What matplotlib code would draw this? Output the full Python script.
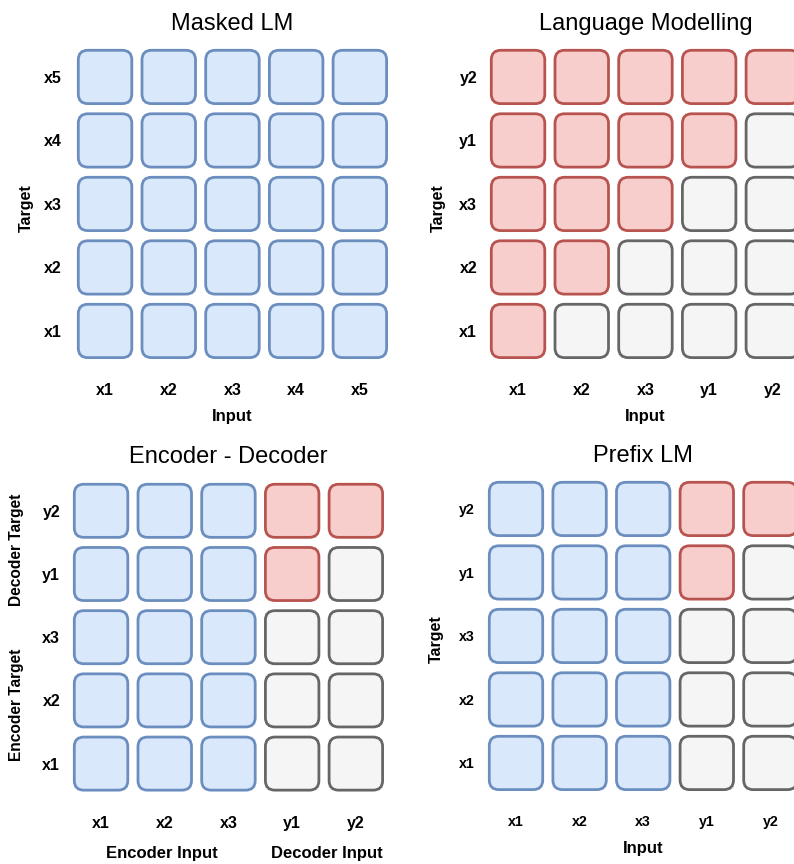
import matplotlib
matplotlib.use("Agg")
import matplotlib.pyplot as plt
from matplotlib.patches import FancyBboxPatch

plt.rcParams['font.family'] = ['Liberation Sans', 'DejaVu Sans']

# cell states, rows listed bottom -> top: b = attend (blue), r = causal (red), g = masked (grey)
masked_lm_grid = ["bbbbb", "bbbbb", "bbbbb", "bbbbb", "bbbbb"]
lang_model_grid = ["rgggg", "rrggg", "rrrgg", "rrrrg", "rrrrr"]
enc_dec_grid = ["bbbgg", "bbbgg", "bbbgg", "bbbrg", "bbbrr"]
prefix_lm_grid = ["bbbgg", "bbbgg", "bbbgg", "bbbrg", "bbbrr"]

masked_lm_labels = ["x1", "x2", "x3", "x4", "x5"]
seq_labels = ["x1", "x2", "x3", "y1", "y2"]

titles = ["Masked LM", "Language Modelling", "Encoder - Decoder", "Prefix LM"]

fills = {"b": "#dae8fc", "r": "#f8cecc", "g": "#f5f5f5"}
edges = {"b": "#6c8ebf", "r": "#b85450", "g": "#666666"}

W, H = 794, 864
fig = plt.figure(figsize=(W / 100, H / 100), dpi=100)


def make_ax(left, top, w, h):
    return fig.add_axes([left / W, 1 - (top + h) / H, w / W, h / H])


def draw_grid(ax, grid, xlabels, ylabels, title, tick_size, xpad, ypad, title_pad):
    n = len(grid)
    for r, row in enumerate(grid):
        for c, s in enumerate(row):
            box = FancyBboxPatch((c + 0.08, r + 0.08), 0.84, 0.84,
                                 boxstyle="round,pad=0,rounding_size=0.15",
                                 facecolor=fills[s], edgecolor=edges[s], linewidth=2.0)
            ax.add_patch(box)
    ax.set_xlim(0, n)
    ax.set_ylim(0, n)
    centers = [i + 0.5 for i in range(n)]
    ax.set_xticks(centers, xlabels)
    ax.set_yticks(centers, ylabels)
    ax.tick_params(length=0, labelsize=tick_size)
    ax.tick_params(axis='x', pad=xpad)
    ax.tick_params(axis='y', pad=ypad)
    for t in ax.get_xticklabels() + ax.get_yticklabels():
        t.set_fontweight('bold')
    for sp in ax.spines.values():
        sp.set_visible(False)
    ax.set_title(title, fontsize=17, pad=title_pad)


ax1 = make_ax(73.2, 45.2, 318.5, 317.5)
draw_grid(ax1, masked_lm_grid, masked_lm_labels, masked_lm_labels, titles[0], 11.5, 14.5, 8, 11)
ax1.set_xlabel("Input", fontsize=12, fontweight='bold')
ax1.xaxis.set_label_coords(0.5, -0.171)
ax1.xaxis.label.set_va('center')
ax1.set_ylabel("Target", fontsize=11.5, fontweight='bold')
ax1.yaxis.set_label_coords(-0.148, 0.487)
ax1.yaxis.label.set_va('center')

ax2 = make_ax(486.2, 45.2, 318.5, 317.5)
draw_grid(ax2, lang_model_grid, seq_labels, seq_labels, titles[1], 11.5, 14.5, 6.5, 11)
ax2.set_xlabel("Input", fontsize=12, fontweight='bold')
ax2.xaxis.set_label_coords(0.5, -0.171)
ax2.xaxis.label.set_va('center')
ax2.set_ylabel("Target", fontsize=11.5, fontweight='bold')
ax2.yaxis.set_label_coords(-0.151, 0.487)
ax2.yaxis.label.set_va('center')

ax3 = make_ax(69.2, 479.2, 318.5, 316)
draw_grid(ax3, enc_dec_grid, seq_labels, seq_labels, titles[2], 11.5, 15, 6.5, 11.5)
for txt, x in [("Encoder Input", 1.45), ("Decoder Input", 4.05)]:
    ax3.text(x, -0.92, txt, fontsize=12, fontweight='bold', ha='center', va='center')
for txt, y in [("Encoder Target", 1.43), ("Decoder Target", 3.88)]:
    ax3.text(-0.82, y, txt, fontsize=11.2, fontweight='bold', ha='center', va='center',
             rotation=90)

ax4 = make_ax(484.2, 477.2, 318, 317.5)
draw_grid(ax4, prefix_lm_grid, seq_labels, seq_labels, titles[3], 10.3, 14.5, 7, 11)
ax4.set_xlabel("Input", fontsize=12, fontweight='bold')
ax4.xaxis.set_label_coords(0.5, -0.171)
ax4.xaxis.label.set_va('center')
ax4.set_ylabel("Target", fontsize=11.5, fontweight='bold')
ax4.yaxis.set_label_coords(-0.151, 0.49)
ax4.yaxis.label.set_va('center')

fig.savefig("out.png", dpi=100)
